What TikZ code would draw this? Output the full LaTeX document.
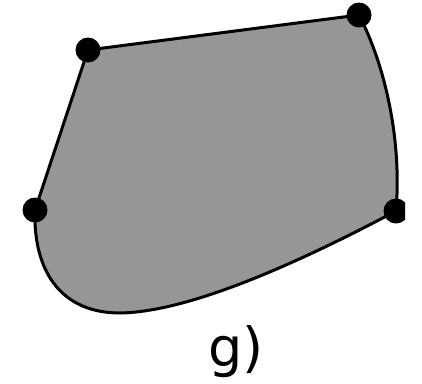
\documentclass[tikz,border=0pt]{standalone}
\usepackage{fontspec}
\setmainfont{DejaVu Sans}
\usepackage{tikz}
\usetikzlibrary{positioning}

\begin{document}
\begin{tikzpicture}[
        x=1pt, y=-1pt,
        corner/.style={circle, fill=black, inner sep=0pt, minimum size=25pt},
        region/.style={fill={rgb,255:red,150;green,150;blue,150}, draw=black, line width=3pt, line join=round},
        label/.style={font=\fontsize{54}{60}\selectfont, inner sep=0pt}
        ]
        \useasboundingbox (0,0) rectangle (422,383);
        \clip (0,0) rectangle (405,383);

        \coordinate (tl) at (88,50);
        \coordinate (tr) at (359,15);
        \coordinate (br) at (396,211);
        \coordinate (bl) at (35,210);

        % grey region
        \draw[region] (tl) -- (tr)
            .. controls (385,65) and (402,140) .. (br)
            .. controls (300,262) and (190,312) .. (120,313)
            .. controls (60,313) and (33,270) .. (bl) -- cycle;

        \node[corner] (ptl) at (tl) {};
        \node[corner] (ptr) at (tr) {};
        \node[corner] (pbr) at (br) {};
        \node[corner] (pbl) at (bl) {};

        \node[label, anchor=base] (cap) at (236,366) {g)};
    \end{tikzpicture}
\end{document}
